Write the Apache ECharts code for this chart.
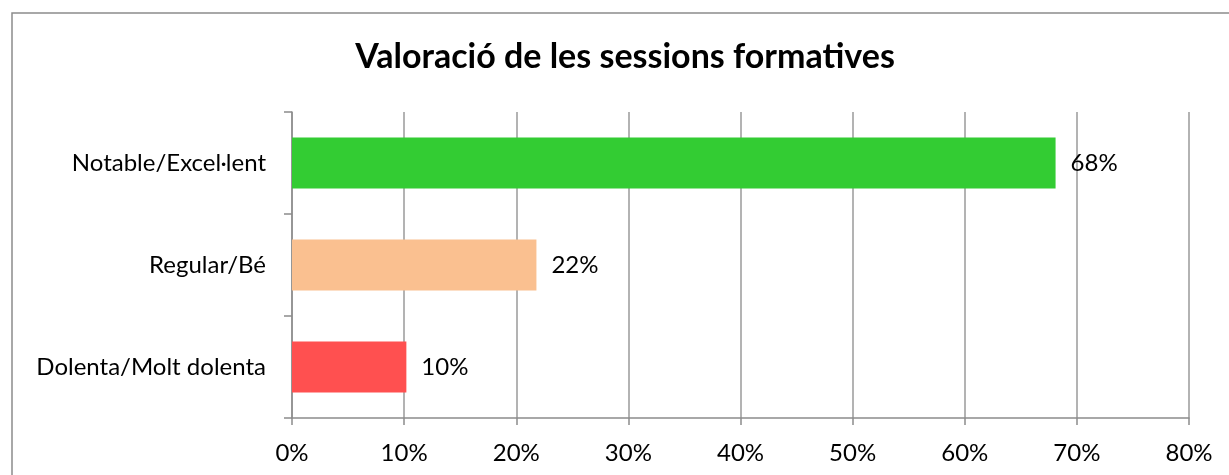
<!DOCTYPE html>
<html>
<head>
<meta charset="utf-8">
<title>Valoració de les sessions formatives</title>
<script src="https://cdn.jsdelivr.net/npm/echarts@6/dist/echarts.min.js"></script>
<style>
html, body { margin: 0; padding: 0; background: #fff; }
#chart { width: 1229px; height: 475px; }
</style>
</head>
<body>
<div id="chart"></div>
<script>
// categories go bottom -> top on a category y axis
var categories = ['Dolenta/Molt dolenta', 'Regular/Bé', 'Notable/Excel·lent'];
var values = [10.2, 21.8, 68.1];
var barColors = ['#FF5050', '#FAC090', '#33CC33'];
var axisMin = 0, axisMax = 80, axisStep = 10;

var chart = echarts.init(document.getElementById('chart'));
var gray = '#8c8c8c';
var font = 'Lato, Carlito, Calibri, sans-serif';

var option = {
    animation: false,
    backgroundColor: '#fff',
    title: {
        text: 'Valoració de les sessions formatives',
        left: 620,
        textAlign: 'center',
        top: 35,
        textStyle: { fontFamily: font, fontSize: 34, fontWeight: 'bold', color: '#000' }
    },
    graphic: [{
        // chart area frame, only its top and left edges are inside the picture
        type: 'rect',
        shape: { x: 12, y: 13, width: 1400, height: 800 },
        style: { fill: 'none', stroke: gray, lineWidth: 1.5 },
        silent: true
    }],
    grid: { left: 292, right: 40, top: 112, bottom: 57 },
    xAxis: {
        type: 'value',
        min: axisMin,
        max: axisMax,
        interval: axisStep,
        axisLine: { show: true, lineStyle: { color: gray, width: 1.5 } },
        axisTick: { show: true, length: 7, lineStyle: { color: gray, width: 1.5 } },
        splitLine: { show: true, lineStyle: { color: '#9a9a9a', width: 1.5 } },
        axisLabel: {
            margin: 23,
            formatter: '{value}%',
            fontFamily: font, fontSize: 24, color: '#000'
        }
    },
    yAxis: {
        type: 'category',
        data: categories,
        axisLine: { show: true, lineStyle: { color: gray, width: 1.5 } },
        axisTick: { show: true, length: 8, lineStyle: { color: gray, width: 1.5 } },
        axisLabel: { margin: 26, fontFamily: font, fontSize: 24, color: '#000' }
    },
    series: [{
        type: 'bar',
        barCategoryGap: '50%',
        data: values.map(function (v, i) {
            return { value: v, itemStyle: { color: barColors[i] } };
        }),
        label: {
            show: true,
            position: 'right',
            distance: 15,
            fontFamily: font, fontSize: 24, color: '#000',
            formatter: function (p) { return Math.round(p.value) + '%'; }
        }
    }]
};

chart.setOption(option);
</script>
</body>
</html>
